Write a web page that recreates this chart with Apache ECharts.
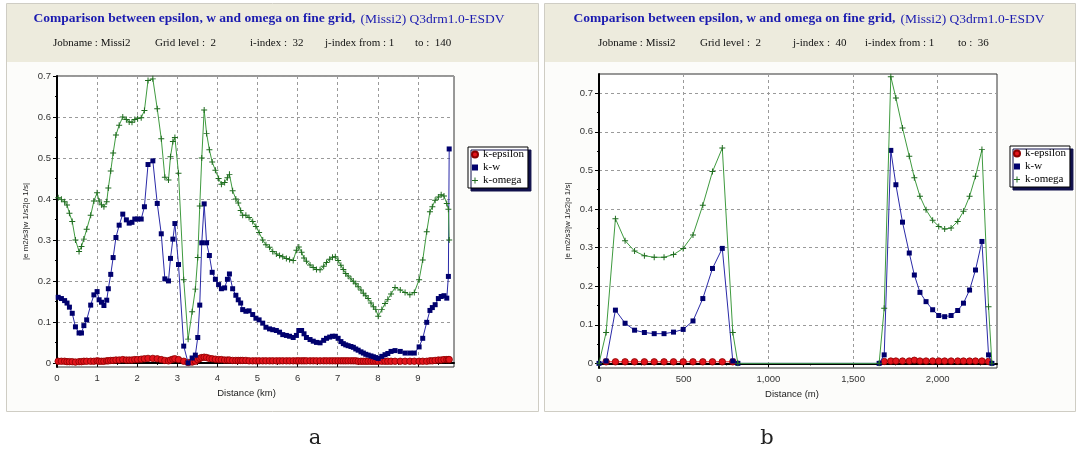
<!DOCTYPE html>
<html>
<head>
<meta charset="utf-8">
<script src="https://cdn.jsdelivr.net/npm/echarts@6/dist/echarts.min.js"></script>
<style>
  html, body { margin: 0; padding: 0; background: #ffffff; }
  #chart { width: 1079px; height: 450px; }
</style>
</head>
<body>
<div id="chart"></div>
<script>
// ---- Panel a: along j, i-index 32 (distance in km) ----
const distKm = [
  0.03, 0.11, 0.19, 0.25, 0.31, 0.38, 0.46, 0.55, 0.61, 0.67,
  0.74, 0.84, 0.92, 1.00, 1.05, 1.11, 1.17, 1.24, 1.28, 1.34,
  1.40, 1.47, 1.55, 1.64, 1.73, 1.80, 1.87, 1.94, 2.01, 2.10,
  2.18, 2.27, 2.39, 2.50, 2.60, 2.69, 2.78, 2.83, 2.89, 2.94,
  3.03, 3.16, 3.27, 3.37, 3.45, 3.51, 3.56, 3.61, 3.67, 3.73,
  3.80, 3.87, 3.95, 4.03, 4.10, 4.18, 4.25, 4.30, 4.38, 4.46,
  4.52, 4.58, 4.63, 4.71, 4.79, 4.88, 4.96, 5.04, 5.13, 5.21,
  5.30, 5.38, 5.47, 5.55, 5.63, 5.72, 5.80, 5.89, 5.97, 6.03,
  6.10, 6.16, 6.22, 6.31, 6.39, 6.47, 6.56, 6.65, 6.72, 6.80,
  6.87, 6.94, 7.01, 7.08, 7.14, 7.20, 7.26, 7.33, 7.39, 7.45,
  7.51, 7.58, 7.64, 7.70, 7.76, 7.83, 7.89, 7.95, 8.01, 8.10,
  8.18, 8.25, 8.33, 8.43, 8.56, 8.68, 8.80, 8.91, 9.03, 9.12,
  9.22, 9.30, 9.36, 9.43, 9.51, 9.58, 9.65, 9.72, 9.76, 9.78
];
const epsA = [
  0.004, 0.004, 0.004, 0.003, 0.003, 0.003, 0.002, 0.003, 0.003, 0.004,
  0.004, 0.004, 0.004, 0.005, 0.004, 0.004, 0.004, 0.005, 0.005, 0.006,
  0.006, 0.007, 0.007, 0.008, 0.007, 0.007, 0.007, 0.008, 0.008, 0.009,
  0.010, 0.011, 0.011, 0.010, 0.008, 0.006, 0.005, 0.007, 0.009, 0.010,
  0.008, 0.004, 0.001, 0.002, 0.004, 0.008, 0.011, 0.013, 0.014, 0.013,
  0.011, 0.010, 0.009, 0.008, 0.008, 0.007, 0.007, 0.007, 0.006, 0.006,
  0.006, 0.006, 0.006, 0.006, 0.005, 0.005, 0.005, 0.005, 0.005, 0.005,
  0.005, 0.005, 0.005, 0.005, 0.005, 0.005, 0.005, 0.005, 0.005, 0.005,
  0.005, 0.005, 0.005, 0.005, 0.005, 0.005, 0.005, 0.005, 0.005, 0.005,
  0.005, 0.005, 0.005, 0.005, 0.005, 0.005, 0.005, 0.005, 0.005, 0.005,
  0.004, 0.004, 0.004, 0.004, 0.004, 0.004, 0.004, 0.004, 0.004, 0.004,
  0.004, 0.004, 0.004, 0.004, 0.004, 0.004, 0.004, 0.004, 0.004, 0.004,
  0.004, 0.005, 0.005, 0.006, 0.007, 0.007, 0.008, 0.008, 0.008, 0.008
];
const wA = [
  0.160, 0.157, 0.152, 0.146, 0.136, 0.121, 0.088, 0.073, 0.073, 0.091,
  0.105, 0.141, 0.166, 0.174, 0.154, 0.148, 0.140, 0.153, 0.181, 0.216,
  0.257, 0.306, 0.336, 0.363, 0.349, 0.341, 0.343, 0.351, 0.351, 0.351,
  0.381, 0.484, 0.493, 0.389, 0.315, 0.205, 0.200, 0.255, 0.302, 0.340,
  0.240, 0.041, 0.000, 0.012, 0.019, 0.062, 0.141, 0.293, 0.388, 0.293,
  0.262, 0.221, 0.204, 0.191, 0.181, 0.183, 0.204, 0.217, 0.181, 0.165,
  0.154, 0.146, 0.130, 0.126, 0.127, 0.118, 0.109, 0.105, 0.097, 0.087,
  0.083, 0.081, 0.079, 0.075, 0.069, 0.067, 0.065, 0.062, 0.067, 0.079,
  0.079, 0.071, 0.062, 0.057, 0.053, 0.050, 0.049, 0.055, 0.060, 0.063,
  0.065, 0.065, 0.060, 0.052, 0.047, 0.044, 0.042, 0.040, 0.038, 0.034,
  0.031, 0.027, 0.024, 0.021, 0.019, 0.017, 0.015, 0.013, 0.011, 0.016,
  0.020, 0.023, 0.028, 0.030, 0.028, 0.024, 0.024, 0.024, 0.039, 0.060,
  0.099, 0.128, 0.135, 0.142, 0.157, 0.162, 0.164, 0.158, 0.211, 0.522
];
const omegaA = [
  0.403, 0.399, 0.393, 0.385, 0.365, 0.345, 0.300, 0.272, 0.284, 0.302,
  0.326, 0.360, 0.395, 0.415, 0.395, 0.386, 0.381, 0.393, 0.427, 0.468,
  0.512, 0.556, 0.580, 0.600, 0.594, 0.588, 0.587, 0.594, 0.596, 0.598,
  0.616, 0.689, 0.693, 0.620, 0.547, 0.453, 0.446, 0.503, 0.540, 0.550,
  0.463, 0.203, 0.058, 0.125, 0.180, 0.257, 0.383, 0.500, 0.617, 0.560,
  0.520, 0.490, 0.470, 0.450, 0.436, 0.440, 0.452, 0.460, 0.420, 0.400,
  0.390, 0.372, 0.360, 0.360, 0.355, 0.345, 0.333, 0.318, 0.300, 0.288,
  0.282, 0.272, 0.266, 0.262, 0.259, 0.255, 0.252, 0.250, 0.275, 0.283,
  0.270, 0.256, 0.248, 0.239, 0.233, 0.228, 0.227, 0.236, 0.245, 0.253,
  0.258, 0.259, 0.250, 0.238, 0.228, 0.218, 0.212, 0.205, 0.199, 0.193,
  0.186, 0.178, 0.170, 0.164, 0.157, 0.146, 0.137, 0.130, 0.114, 0.130,
  0.145, 0.155, 0.168, 0.184, 0.178, 0.172, 0.166, 0.172, 0.203, 0.251,
  0.320, 0.369, 0.381, 0.397, 0.405, 0.410, 0.407, 0.389, 0.375, 0.300
];

// ---- Panel b: along i, j-index 40 (distance in m); null = no value ----
const distM = [
  0, 42, 97, 154, 210, 268, 326, 384, 440, 497,
  555, 613, 670, 728, 790, 820,
  1654, 1684, 1723, 1753, 1792, 1832, 1862, 1895, 1931, 1970,
  2006, 2041, 2079, 2118, 2152, 2188, 2223, 2261, 2300, 2320
];
const epsB = [
  null, 0.004, 0.004, 0.004, 0.004, 0.004, 0.004, 0.004, 0.004, 0.004,
  0.004, 0.004, 0.004, 0.004, 0.004, null,
  null, 0.005, 0.006, 0.006, 0.006, 0.006, 0.008, 0.006, 0.006, 0.006,
  0.006, 0.006, 0.006, 0.006, 0.006, 0.006, 0.006, 0.006, 0.005, null
];
const wB = [
  0.000, 0.006, 0.138, 0.104, 0.086, 0.080, 0.077, 0.077, 0.081, 0.088,
  0.110, 0.168, 0.246, 0.298, 0.006, 0.000,
  0.000, 0.022, 0.552, 0.463, 0.366, 0.286, 0.229, 0.184, 0.160, 0.139,
  0.124, 0.121, 0.124, 0.137, 0.156, 0.190, 0.242, 0.316, 0.022, 0.000
];
const omegaB = [
  0.000, 0.080, 0.375, 0.318, 0.291, 0.279, 0.275, 0.275, 0.282, 0.298,
  0.333, 0.410, 0.497, 0.558, 0.080, 0.000,
  0.000, 0.143, 0.743, 0.688, 0.610, 0.537, 0.481, 0.433, 0.398, 0.371,
  0.355, 0.348, 0.351, 0.368, 0.394, 0.433, 0.485, 0.554, 0.147, 0.000
];

const yTicks = [0, 0.1, 0.2, 0.3, 0.4, 0.5, 0.6, 0.7];
const yMinor = [0.05, 0.15, 0.25, 0.35, 0.45, 0.55, 0.65];
const kmTicks = [0, 1, 2, 3, 4, 5, 6, 7, 8, 9];
const mTicks = [0, 500, 1000, 1500, 2000];
const seriesNames = ['k-epsilon', 'k-w', 'k-omega'];

const TITLE = 'Comparison between epsilon, w and omega on fine grid,';
const TITLE_TAIL = '(Missi2) Q3drm1.0-ESDV';
const infoA = ['Jobname : Missi2', 'Grid level :  2', 'i-index :  32', 'j-index from : 1', 'to :  140'];
const infoB = ['Jobname : Missi2', 'Grid level :  2', 'j-index :  40', 'i-index from : 1', 'to :  36'];

const plusPath = 'path://M4.6,0 L6.4,0 L6.4,4.6 L11,4.6 L11,6.4 L6.4,6.4 L6.4,11 L4.6,11 L4.6,6.4 L0,6.4 L0,4.6 L4.6,4.6 Z';

const C_EPS = '#e3141c', C_EPS_EDGE = '#8a0000';
const C_W_LINE = '#2a2aa8', C_W_MARK = '#00006e';
const C_OM_LINE = '#3f9b3f', C_OM_MARK = '#1f6b1f';
const SERIF = 'Liberation Serif, Times New Roman, serif';
const SANS = 'Liberation Sans, Arial, sans-serif';

const pairs = (xs, ys) => xs.map((x, i) => [x, ys[i]]);

const sansLabel = { fontFamily: SANS, fontSize: 9.5, color: '#333' };
const gridLine = { show: true, lineStyle: { color: '#9a9a9a', type: [3, 3], width: 1 } };

function yAxes(gridIndex, min, max) {
  return [{
    type: 'value', gridIndex, min, max, position: 'left',
    axisLine: { show: true, lineStyle: { color: '#000', width: 2 } },
    axisTick: { show: true, customValues: yTicks, length: 4, lineStyle: { color: '#000' } },
    axisLabel: Object.assign({ customValues: yTicks, margin: 6 }, sansLabel),
    splitLine: gridLine,
    name: '|e m2/s3|w 1/s2|o 1/s|', nameLocation: 'middle', nameRotate: 90, nameGap: 27,
    nameTextStyle: { fontFamily: SANS, fontSize: 8, color: '#222' }
  }, {
    type: 'value', gridIndex, min, max, position: 'left', offset: 0,
    axisLine: { show: false },
    axisTick: { show: true, customValues: yMinor, length: 2, lineStyle: { color: '#000' } },
    axisLabel: { show: false },
    splitLine: { show: false }
  }];
}

function xAxis(gridIndex, max, interval, ticks, name, nameShift, fmt) {
  const ax = {
    type: 'value', gridIndex, min: 0, max, interval,
    axisLine: { show: true, lineStyle: { color: '#000', width: 2 } },
    axisTick: { show: true, length: 4, customValues: ticks, lineStyle: { color: '#000' } },
    minorTick: { show: true, splitNumber: 2, length: 2, lineStyle: { color: '#000' } },
    axisLabel: Object.assign({ margin: 6, customValues: ticks }, sansLabel),
    splitLine: gridLine,
    name, nameLocation: 'middle', nameGap: 20,
    nameTextStyle: { fontFamily: SANS, fontSize: 9.5, color: '#222', padding: [0, nameShift, 0, 0] }
  };
  if (fmt) ax.axisLabel.formatter = fmt;
  return ax;
}

function makeSeries(xi, yi, xs, eps, w, om) {
  return [{
    name: seriesNames[0], type: 'line', xAxisIndex: xi, yAxisIndex: yi,
    data: pairs(xs, eps), symbol: 'circle', symbolSize: 6.5, showSymbol: true,
    lineStyle: { color: C_EPS, width: 1 },
    itemStyle: { color: C_EPS, borderColor: C_EPS_EDGE, borderWidth: 0.8 },
    animation: false, z: 2
  }, {
    name: seriesNames[1], type: 'line', xAxisIndex: xi, yAxisIndex: yi,
    data: pairs(xs, w), symbol: 'rect', symbolSize: 5, showSymbol: true,
    lineStyle: { color: C_W_LINE, width: 1 },
    itemStyle: { color: C_W_MARK, borderWidth: 0 },
    animation: false, z: 3
  }, {
    name: seriesNames[2], type: 'line', xAxisIndex: xi, yAxisIndex: yi,
    data: pairs(xs, om), symbol: plusPath, symbolSize: 6, showSymbol: true,
    lineStyle: { color: C_OM_LINE, width: 1 },
    itemStyle: { color: C_OM_MARK, borderWidth: 0 },
    animation: false, z: 4
  }];
}

function legend(left, top) {
  return {
    orient: 'vertical', left, top, data: [
      { name: seriesNames[0], icon: 'circle' },
      { name: seriesNames[1], icon: 'rect' },
      { name: seriesNames[2], icon: plusPath }
    ],
    itemWidth: 6, itemHeight: 6, itemGap: 2, padding: [2, 4, 2, 3],
    backgroundColor: '#ffffff', borderColor: '#000', borderWidth: 1,
    shadowColor: '#10104a', shadowOffsetX: 3, shadowOffsetY: 3, shadowBlur: 0,
    textStyle: { fontFamily: SERIF, fontSize: 11, lineHeight: 11, color: '#000' },
    selectedMode: false
  };
}

function panelGraphics(x0, width) {
  return [
    { type: 'rect', shape: { x: x0 + 0.5, y: 3.5, width, height: 408 }, style: { fill: '#fcfcfa', stroke: '#cfcdc4', lineWidth: 1 }, z: -10, silent: true },
    { type: 'rect', shape: { x: x0 + 1, y: 4, width: width - 1, height: 58 }, style: { fill: '#edebdd' }, z: -9, silent: true }
  ];
}

function titleBlock(centerX, info, infoX) {
  const items = [{
    text: '{b|' + TITLE + '} {n|' + TITLE_TAIL + '}', left: centerX, top: 5, textAlign: 'center',
    textStyle: { rich: {
      b: { fontFamily: SERIF, fontWeight: 'bold', fontSize: 13.5, color: '#1b1bb0' },
      n: { fontFamily: SERIF, fontWeight: 'normal', fontSize: 13.5, color: '#1b1bb0' }
    } }
  }];
  info.forEach((t, i) => items.push({
    text: t, left: infoX[i], top: 38, padding: 0,
    textStyle: { fontFamily: SERIF, fontWeight: 'normal', fontSize: 11, color: '#111' }
  }));
  return items;
}

const chart = echarts.init(document.getElementById('chart'), null, { renderer: 'canvas' });
chart.setOption({
  backgroundColor: '#ffffff',
  animation: false,
  title: [].concat(
    titleBlock(264, infoA, [53, 155, 250, 325, 415]),
    titleBlock(804, infoB, [598, 700, 793, 865, 958]),
    [
      { text: 'a', left: 310, top: 423, textAlign: 'center', textStyle: { fontFamily: 'DejaVu Serif, serif', fontWeight: 'normal', fontSize: 21, color: '#222' } },
      { text: 'b', left: 762, top: 423, textAlign: 'center', textStyle: { fontFamily: 'DejaVu Serif, serif', fontWeight: 'normal', fontSize: 21, color: '#222' } }
    ]
  ),
  graphic: [].concat(panelGraphics(6, 532), panelGraphics(544, 531)),
  legend: [legend(468, 147), legend(1010, 146)],
  grid: [
    { left: 57, top: 76, width: 397, height: 291, show: true, backgroundColor: '#ffffff', borderColor: '#333', borderWidth: 1 },
    { left: 599, top: 74, width: 398, height: 294, show: true, backgroundColor: '#ffffff', borderColor: '#333', borderWidth: 1 }
  ],
  xAxis: [
    xAxis(0, 9.9, 1, kmTicks, 'Distance (km)', 18, null),
    xAxis(1, 2350, 500, mTicks, 'Distance (m)', 12, v => v >= 1000 ? Math.floor(v / 1000) + ',' + String(v % 1000).padStart(3, '0') : String(v))
  ],
  yAxis: [].concat(yAxes(0, -0.01, 0.7), yAxes(1, -0.012, 0.75)),
  series: [].concat(
    makeSeries(0, 0, distKm, epsA, wA, omegaA),
    makeSeries(1, 2, distM, epsB, wB, omegaB)
  )
});
</script>
</body>
</html>
